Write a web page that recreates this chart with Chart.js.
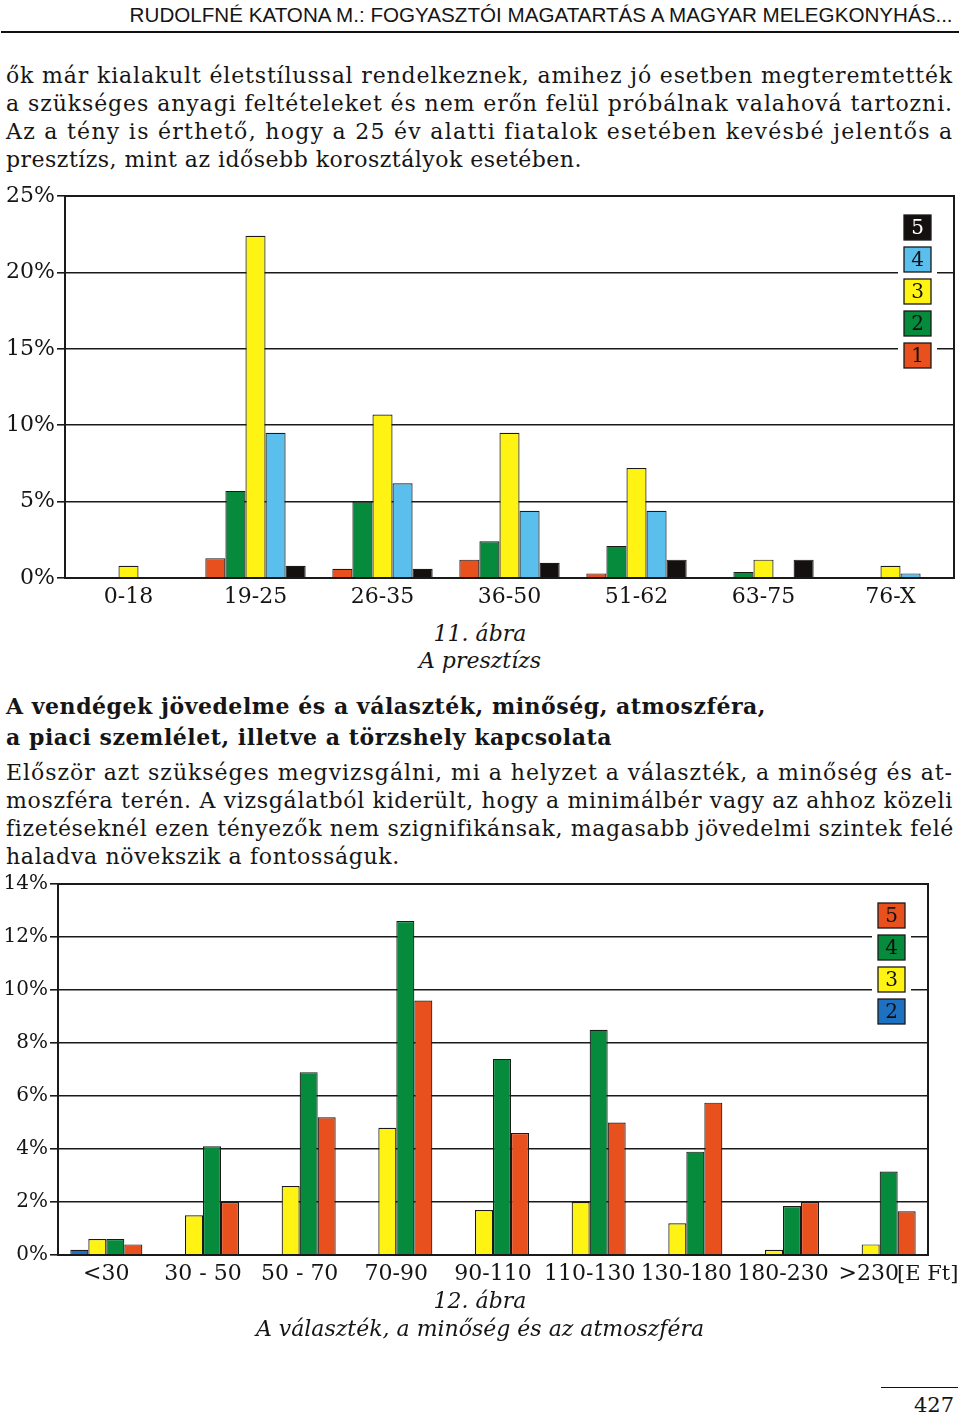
<!DOCTYPE html>
<html>
<head>
<meta charset="utf-8">
<script src="https://cdn.jsdelivr.net/npm/chart.js@4/dist/chart.umd.min.js"></script>
<style>
  body { margin: 0; width: 960px; height: 1416px; position: relative; overflow: hidden; background: #fff; color: #151515; font-family: "DejaVu Serif", serif; }
  .hdr { position: absolute; top: 4px; right: 7px; font: 21px/22px "Liberation Sans", sans-serif; white-space: nowrap; transform-origin: right center; }
  .rule { position: absolute; left: 1px; width: 958px; top: 31px; height: 2px; background: #111; }
  .ln { position: absolute; left: 6px; white-space: nowrap; font-size: 22px; line-height: 28px; }
  .b { font-weight: bold; }
  .cap { position: absolute; left: 0; width: 960px; text-align: center; font-style: italic; font-size: 22px; line-height: 28px; }
  .chartbox { position: absolute; left: 0; }
  .foot { position: absolute; left: 881px; width: 77px; top: 1387px; height: 1px; background: #111; }
  .page { position: absolute; right: 6px; top: 1392px; font-size: 21px; line-height: 26px; }
</style>
</head>
<body>

<div class="hdr" id="hdr">RUDOLFNÉ KATONA M.: FOGYASZTÓI MAGATARTÁS A MAGYAR MELEGKONYHÁS...</div>
<div class="rule"></div>

<div class="ln" data-w="947" style="top:62px">ők már kialakult életstílussal rendelkeznek, amihez jó esetben megteremtették</div>
<div class="ln" data-w="947" style="top:90px">a szükséges anyagi feltételeket és nem erőn felül próbálnak valahová tartozni.</div>
<div class="ln" data-w="947" style="top:118px">Az a tény is érthető, hogy a 25 év alatti fiatalok esetében kevésbé jelentős a</div>
<div class="ln" data-w="576" style="top:146px">presztízs, mint az idősebb korosztályok esetében.</div>

<div class="chartbox" style="top:180px"><canvas id="c1" width="960" height="430"></canvas></div>

<div class="cap" style="top:620px">11. ábra</div>
<div class="cap" style="top:647px">A presztízs</div>

<div class="ln b" data-w="760" style="top:692px">A vendégek jövedelme és a választék, minőség, atmoszféra,</div>
<div class="ln b" data-w="606" style="top:723px">a piaci szemlélet, illetve a törzshely kapcsolata</div>

<div class="ln" data-w="947" style="top:759px">Először azt szükséges megvizsgálni, mi a helyzet a választék, a minőség és at-</div>
<div class="ln" data-w="947" style="top:787px">moszféra terén. A vizsgálatból kiderült, hogy a minimálbér vagy az ahhoz közeli</div>
<div class="ln" data-w="947" style="top:815px">fizetéseknél ezen tényezők nem szignifikánsak, magasabb jövedelmi szintek felé</div>
<div class="ln" data-w="394" style="top:843px">haladva növekszik a fontosságuk.</div>

<div class="chartbox" style="top:870px"><canvas id="c2" width="960" height="420"></canvas></div>

<div class="cap" style="top:1287px">12. ábra</div>
<div class="cap" style="top:1315px">A választék, a minőség és az atmoszféra</div>

<div class="foot"></div>
<div class="page">427</div>

<script>
// 11. ábra - presztízs korcsoportonként
const ageGroups = ['0-18', '19-25', '26-35', '36-50', '51-62', '63-75', '76-X'];
const prestige1 = [0, 1.3, 0.6, 1.2, 0.3, 0, 0];
const prestige2 = [0, 5.7, 5.0, 2.4, 2.1, 0.4, 0];
const prestige3 = [0.8, 22.4, 10.7, 9.5, 7.2, 1.2, 0.8];
const prestige4 = [0, 9.5, 6.2, 4.4, 4.4, 0, 0.3];
const prestige5 = [0, 0.8, 0.6, 1.0, 1.2, 1.2, 0];
const prestigeMax = 25;

// 12. ábra - választék, minőség, atmoszféra jövedelem szerint
const incomeGroups = ['<30', '30 - 50', '50 - 70', '70-90', '90-110', '110-130', '130-180', '180-230', '>230'];
const quality2 = [0.2, 0, 0, 0, 0, 0, 0, 0, 0];
const quality3 = [0.6, 1.5, 2.6, 4.8, 1.7, 2.0, 1.2, 0.2, 0.4];
const quality4 = [0.6, 4.1, 6.9, 12.6, 7.4, 8.5, 3.9, 1.85, 3.15];
const quality5 = [0.4, 2.0, 5.2, 9.6, 4.6, 5.0, 5.75, 2.0, 1.65];
const qualityMax = 14;
const incomeUnit = '[E Ft]';

const RED = '#e8501e', GREEN = '#068a3c', YELLOW = '#fff314', LBLUE = '#5bbfee', DBLUE = '#1d71c0', BLACK = '#141010';
const INK = '#1a1a1a';
const serif = 'DejaVu Serif';

// header squeezed to its width, text lines spread to their widths
const hdr = document.getElementById('hdr');
hdr.style.transform = 'scaleX(' + (823 / hdr.getBoundingClientRect().width) + ')';
document.querySelectorAll('.ln').forEach(el => {
  const nat = el.getBoundingClientRect().width;
  el.style.letterSpacing = ((+el.dataset.w - nat) / el.textContent.length) + 'px';
});

// boxed numbers on the right, gridlines cut behind them
const boxLegend = {
  id: 'boxLegend',
  afterDatasetsDraw(chart, args, opts) {
    const ctx = chart.ctx, a = chart.chartArea;
    const x = a.right - 50, y0 = a.top + 19;
    const items = chart.data.datasets.slice().reverse();
    ctx.save();
    ctx.fillStyle = '#fff';
    ctx.fillRect(x - 6, y0 - 6, 39, items.length * 32 + 6);
    items.forEach((ds, i) => {
      const y = y0 + i * 32;
      ctx.fillStyle = ds.backgroundColor;
      ctx.fillRect(x, y, 27, 25);
      ctx.strokeStyle = INK;
      ctx.lineWidth = 1.3;
      ctx.strokeRect(x, y, 27, 25);
      ctx.fillStyle = ds.backgroundColor === BLACK ? '#fff' : '#111';
      ctx.font = '20px "' + serif + '"';
      ctx.textAlign = 'center';
      ctx.textBaseline = 'middle';
      ctx.fillText(ds.label, x + 13.5, y + 13.5);
    });
    ctx.restore();
  },
  afterDraw(chart, args, opts) {
    const ctx = chart.ctx, a = chart.chartArea;
    ctx.save();
    ctx.strokeStyle = INK;
    ctx.lineWidth = 2;
    ctx.strokeRect(a.left, a.top, a.right - a.left, a.bottom - a.top);
    if (opts.unit) {
      ctx.fillStyle = '#151515';
      ctx.font = '21px "' + serif + '"';
      ctx.textAlign = 'left';
      ctx.textBaseline = 'middle';
      ctx.fillText(opts.unit, a.right - 31, a.bottom + 20);
    }
    ctx.restore();
  }
};

function bars(label, data, color) {
  return { label: label, data: data, backgroundColor: color, borderColor: INK, borderWidth: 1.2, borderSkipped: 'bottom' };
}

function options(max, step, yWidth, yFont, xHeight, pad, catPct, unit, lastLabelShift) {
  return {
    responsive: false,
    animation: false,
    layout: { padding: pad },
    datasets: { bar: { categoryPercentage: catPct, barPercentage: 1 } },
    plugins: { legend: { display: false }, tooltip: { enabled: false }, boxLegend: { unit: unit } },
    scales: {
      x: {
        grid: { display: false, drawTicks: false },
        border: { display: true, color: INK, width: 2 },
        ticks: {
          color: '#151515', padding: 6, maxRotation: 0, autoSkip: false,
          font: { family: serif, size: 22 },
          callback: function (v, i, t) {
            const l = this.getLabelForValue(v);
            return (lastLabelShift && i === t.length - 1) ? l + '\u2002\u2002' : l;
          }
        },
        afterFit: s => { s.height = xHeight; }
      },
      y: {
        min: 0, max: max,
        grid: { color: INK, lineWidth: 1.6, tickLength: 8, tickColor: INK },
        border: { display: true, color: INK, width: 2 },
        ticks: { stepSize: step, padding: 2, color: '#151515', font: { family: serif, size: yFont }, callback: v => v + '%' },
        afterFit: s => { s.width = yWidth; }
      }
    }
  };
}

new Chart(document.getElementById('c1'), {
  type: 'bar',
  data: {
    labels: ageGroups,
    datasets: [
      bars('1', prestige1, RED),
      bars('2', prestige2, GREEN),
      bars('3', prestige3, YELLOW),
      bars('4', prestige4, LBLUE),
      bars('5', prestige5, BLACK)
    ]
  },
  options: options(prestigeMax, 5, 65, 22, 32, { top: 16, right: 6, left: 0, bottom: 0 }, 0.79, null, false),
  plugins: [boxLegend]
});

new Chart(document.getElementById('c2'), {
  type: 'bar',
  data: {
    labels: incomeGroups,
    datasets: [
      bars('2', quality2, DBLUE),
      bars('3', quality3, YELLOW),
      bars('4', quality4, GREEN),
      bars('5', quality5, RED)
    ]
  },
  options: options(qualityMax, 2, 58, 20, 35, { top: 13, right: 32, left: 0, bottom: 0 }, 0.745, incomeUnit, true),
  plugins: [boxLegend]
});
</script>
</body>
</html>
